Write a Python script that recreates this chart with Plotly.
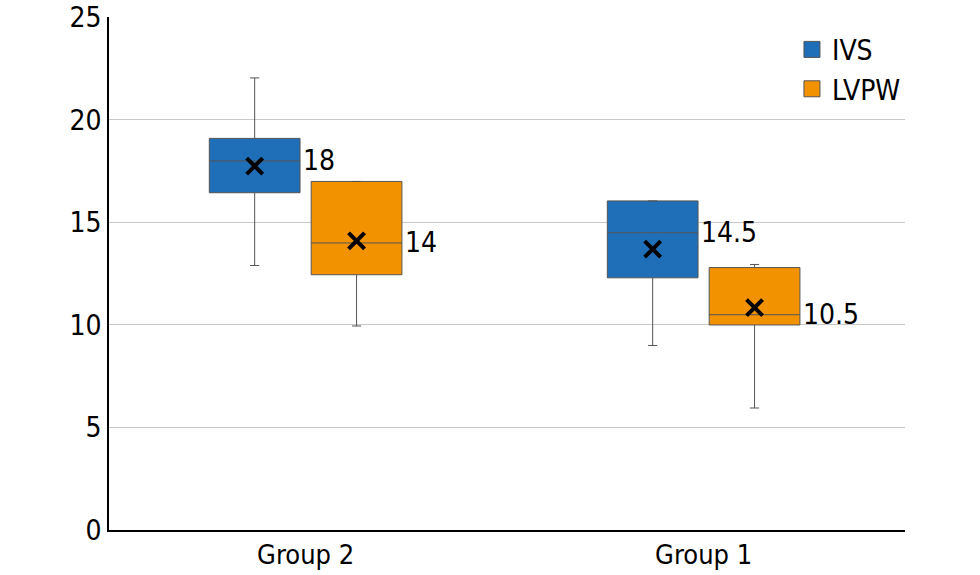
import plotly.graph_objects as go

categories = ["Group 2", "Group 1"]
series_names = ["IVS", "LVPW"]
colors = ["#1F6EB8", "#F29200"]

# per series: values for [Group 2, Group 1]
q1 = {"IVS": [16.45, 12.3], "LVPW": [12.45, 10.0]}
median = {"IVS": [18.0, 14.5], "LVPW": [14.0, 10.5]}
q3 = {"IVS": [19.1, 16.05], "LVPW": [17.0, 12.8]}
lower = {"IVS": [12.9, 9.0], "LVPW": [9.95, 5.95]}
upper = {"IVS": [22.05, 16.05], "LVPW": [17.0, 12.95]}
mean = {"IVS": [17.75, 13.7], "LVPW": [14.1, 10.85]}
median_labels = {"IVS": ["18", "14.5"], "LVPW": ["14", "10.5"]}

y_ticks = [0, 5, 10, 15, 20, 25]

FONT = "Liberation Sans Narrow, DejaVu Sans Condensed, Arial Narrow, sans-serif"
FS = 28

offsets = [-0.128, 0.128]
box_w = 0.228
cat_pos = list(range(len(categories)))

fig = go.Figure()
for si, name in enumerate(series_names):
    xs = [p + offsets[si] for p in cat_pos]
    fig.add_trace(go.Box(
        name=name,
        x=xs,
        q1=q1[name], median=median[name], q3=q3[name],
        lowerfence=lower[name], upperfence=upper[name],
        width=box_w,
        fillcolor=colors[si],
        line=dict(color="#555555", width=1),
        whiskerwidth=0.1,
        boxpoints=False,
        showlegend=False,
        legendgroup=name,
        hoverinfo="skip",
    ))
    # legend swatch
    fig.add_trace(go.Scatter(
        x=[None], y=[None], mode="markers", name=name, legendgroup=name,
        marker=dict(symbol="square", size=19, color=colors[si],
                    line=dict(width=1, color="#555555")),
        showlegend=True, hoverinfo="skip",
    ))
for si, name in enumerate(series_names):
    xs = [p + offsets[si] for p in cat_pos]
    fig.add_trace(go.Scatter(
        x=xs, y=mean[name], mode="markers",
        marker=dict(symbol="x-thin", size=16, line=dict(width=4, color="black"), color="black"),
        showlegend=False, hoverinfo="skip",
    ))
    for ci in cat_pos:
        fig.add_annotation(
            x=xs[ci] + box_w / 2, y=median[name][ci], text=median_labels[name][ci],
            xanchor="left", yanchor="middle", xshift=1, showarrow=False,
            font=dict(family=FONT, size=FS, color="black"),
        )

fig.update_layout(
    template="none",
    width=980, height=575,
    margin=dict(l=109, r=75, t=17, b=45, autoexpand=False),
    paper_bgcolor="white", plot_bgcolor="white",
    font=dict(family=FONT, size=FS, color="black"),
    legend=dict(x=0.858, y=0.985, xanchor="left", yanchor="top",
                font=dict(family=FONT, size=FS), tracegroupgap=0,
                itemsizing="trace", itemwidth=30,
                bgcolor="rgba(0,0,0,0)"),
    showlegend=True,
)
fig.update_xaxes(
    range=[-0.494, len(categories) - 0.494],
    tickvals=cat_pos, ticktext=categories,
    showline=True, linecolor="black", linewidth=1.5,
    showgrid=False, zeroline=False, ticks="", automargin=False,
    tickfont=dict(family=FONT, size=FS - 1),
)
fig.update_yaxes(
    range=[0, 25.02], tickvals=y_ticks,
    showline=True, linecolor="black", linewidth=1.5,
    showgrid=True, gridcolor="#c8c8c8", gridwidth=1,
    zeroline=False, ticks="", automargin=False,
    tickfont=dict(family=FONT, size=FS),
)

fig.write_html("out.html", config={"displayModeBar": False},
               post_script="document.body.style.margin='0';")
